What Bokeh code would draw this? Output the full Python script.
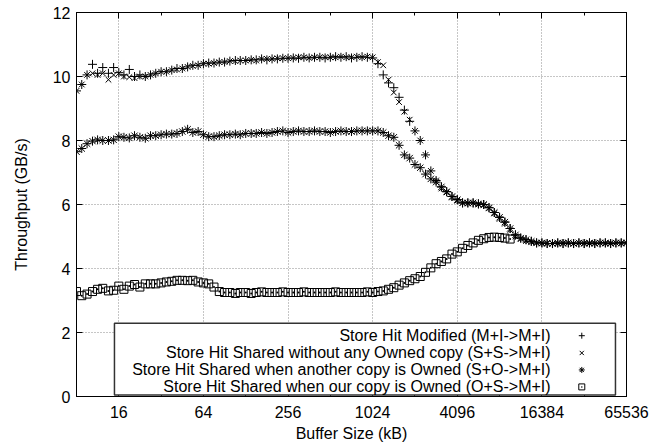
from bokeh.plotting import figure
from bokeh.models import (Range1d, FixedTicker, LogAxis, LinearAxis, BoxAnnotation,
                          Label, PrintfTickFormatter, ColumnDataSource, CustomJSTickFormatter)
from bokeh.embed import file_html
from bokeh.resources import INLINE

# ---------------- data ----------------
BUFFER_KB = [8, 8.72, 9.51, 10.4, 11.3, 12.3, 13.5, 14.7,
             16, 17.4, 19.0, 20.7, 22.6, 24.7, 26.9, 29.3,
             32, 34.9, 38.1, 41.5, 45.3, 49.4, 53.8, 58.7,
             64, 69.8, 76.1, 83.0, 90.5, 98.7, 108, 117,
             128, 140, 152, 166, 181, 197, 215, 235,
             256, 279, 304, 332, 362, 395, 431, 470,
             512, 558, 609, 664, 724, 790, 861, 939,
             1024, 1117, 1218, 1328, 1448, 1579, 1722, 1878,
             2048, 2233, 2435, 2656, 2896, 3158, 3444, 3756,
             4096, 4467, 4871, 5312, 5793, 6317, 6889, 7512,
             8192, 8933, 9742, 10624, 11585, 12634, 13777, 15024,
             16384, 17867, 19484, 21247, 23170, 25268, 27554, 30048,
             32768, 35734, 38968, 42495, 46341, 50535, 55109, 60097,
             65536]

modified_MI = [9.55, 9.75, 10.05, 10.38, 10.1, 10.28, 10.1, 10.28,
               10.12, 10.05, 10.22, 10.0, 10.05, 10.0, 10.05, 10.1,
               10.15, 10.15, 10.2, 10.25, 10.25, 10.3, 10.35, 10.35,
               10.4, 10.42, 10.42, 10.45, 10.45, 10.48, 10.5, 10.5,
               10.5, 10.52, 10.52, 10.55, 10.52, 10.55, 10.55, 10.57,
               10.57, 10.58, 10.57, 10.6, 10.58, 10.6, 10.6, 10.58,
               10.6, 10.62, 10.6, 10.62, 10.58, 10.6, 10.62, 10.6,
               10.58, 10.4, 10.05, 9.8, 9.65, 9.35, 8.95, 8.6,
               8.3, 8.0, 7.55, 7.05, 6.75, 6.55, 6.4, 6.25,
               6.15, 6.05, 6.05, 6.05, 6.02, 6.0, 5.9, 5.75,
               5.6, 5.45, 5.25, 5.05, 4.95, 4.9, 4.85, 4.8,
               4.8, 4.78, 4.78, 4.8, 4.78, 4.8, 4.78, 4.8,
               4.78, 4.8, 4.78, 4.8, 4.8, 4.78, 4.8, 4.8,
               4.8]

shared_SS = [9.55, 9.75, 10.05, 10.1, 10.05, 10.1, 9.9, 10.05,
             10.1, 10.0, 9.98, 9.95, 10.0, 10.0, 10.05, 10.1,
             10.15, 10.15, 10.2, 10.22, 10.25, 10.3, 10.33, 10.35,
             10.4, 10.4, 10.42, 10.45, 10.45, 10.48, 10.48, 10.5,
             10.5, 10.52, 10.5, 10.55, 10.55, 10.55, 10.57, 10.57,
             10.57, 10.58, 10.6, 10.6, 10.58, 10.6, 10.6, 10.6,
             10.6, 10.6, 10.62, 10.6, 10.6, 10.62, 10.6, 10.62,
             10.6, 10.45, 10.35, 9.9, 9.5, 9.2, 8.9, 8.65,
             8.3, 8.0, 7.55, 7.05, 6.75, 6.5, 6.38, 6.22,
             6.12, 6.05, 6.03, 6.05, 6.0, 5.98, 5.88, 5.72,
             5.55, 5.4, 5.2, 5.0, 4.92, 4.86, 4.82, 4.8,
             4.78, 4.8, 4.78, 4.78, 4.8, 4.8, 4.78, 4.8,
             4.8, 4.78, 4.8, 4.8, 4.78, 4.8, 4.8, 4.78,
             4.8]

shared_SO = [7.65, 7.75, 7.9, 7.98, 8.02, 8.0, 8.0, 8.02,
             8.12, 8.1, 8.08, 8.15, 8.1, 8.07, 8.15, 8.15,
             8.18, 8.2, 8.2, 8.22, 8.28, 8.35, 8.25, 8.28,
             8.18, 8.12, 8.12, 8.15, 8.18, 8.18, 8.2, 8.18,
             8.22, 8.22, 8.22, 8.25, 8.22, 8.25, 8.28, 8.3,
             8.25, 8.28, 8.3, 8.28, 8.28, 8.3, 8.28, 8.28,
             8.25, 8.28, 8.3, 8.28, 8.28, 8.3, 8.3, 8.3,
             8.3, 8.3, 8.25, 8.15, 8.1, 7.85, 7.55, 7.45,
             7.25, 7.15, 6.95, 6.8, 6.7, 6.55, 6.4, 6.25,
             6.15, 6.05, 6.05, 6.05, 6.02, 6.0, 5.9, 5.75,
             5.6, 5.45, 5.25, 5.05, 4.95, 4.9, 4.85, 4.8,
             4.8, 4.78, 4.78, 4.8, 4.78, 4.8, 4.78, 4.8,
             4.78, 4.8, 4.78, 4.8, 4.8, 4.78, 4.8, 4.8,
             4.8]

owned_OS = [3.28, 3.15, 3.2, 3.28, 3.35, 3.38, 3.3, 3.32,
            3.45, 3.35, 3.45, 3.5, 3.42, 3.52, 3.52, 3.52,
            3.55, 3.58, 3.6, 3.63, 3.63, 3.62, 3.63, 3.58,
            3.55, 3.52, 3.42, 3.28, 3.25, 3.25, 3.22, 3.25,
            3.25, 3.22, 3.25, 3.27, 3.25, 3.25, 3.25, 3.27,
            3.25, 3.25, 3.25, 3.27, 3.25, 3.25, 3.25, 3.25,
            3.25, 3.27, 3.25, 3.25, 3.25, 3.25, 3.25, 3.27,
            3.25, 3.28, 3.3, 3.35, 3.4, 3.48, 3.55, 3.62,
            3.68, 3.75, 3.88, 4.02, 4.15, 4.22, 4.3, 4.45,
            4.52, 4.63, 4.72, 4.8, 4.88, 4.93, 4.97, 4.98,
            4.97, 4.95, 4.92]

SERIES_LABELS = ["Store Hit Modified (M+I->M+I)",
                 "Store Hit Shared without any Owned copy (S+S->M+I)",
                 "Store Hit Shared when another copy is Owned (S+O->M+I)",
                 "Store Hit Shared when our copy is Owned (O+S->M+I)"]
SERIES_VALUES = [modified_MI, shared_SS, shared_SO, owned_OS]
MARKERS = ["cross", "x", "asterisk", "square_dot"]
MARKER_SIZES = [9, 8, 9, 8]

X_MAJOR = [16, 64, 256, 1024, 4096, 16384, 65536]
X_MINOR = [8, 32, 128, 512, 2048, 8192, 32768]
X_GRID = [16, 64, 256, 1024, 4096, 16384]
Y_MAJOR = [0, 2, 4, 6, 8, 10, 12]
Y_GRID = [2, 4, 6, 8, 10]

FONT = "Liberation Sans"

# ---------------- figure ----------------
p = figure(x_axis_type="log", x_range=Range1d(8, 65536), y_range=Range1d(0, 12),
           frame_width=550, frame_height=384,
           min_border_left=76, min_border_right=34, min_border_top=12, min_border_bottom=46,
           output_backend="svg", toolbar_location=None)
p.background_fill_color = "white"
p.border_fill_color = "white"
p.outline_line_color = "black"
p.outline_line_width = 1
p.outline_line_alpha = 1

def style_axis(ax, ticks, minor, show_labels=True):
    ax.ticker = FixedTicker(ticks=ticks, minor_ticks=minor)
    ax.major_tick_in = 6
    ax.major_tick_out = 0
    ax.minor_tick_in = 3
    ax.minor_tick_out = 0
    ax.axis_line_color = "black"
    ax.major_tick_line_color = "black"
    ax.minor_tick_line_color = "black"
    ax.major_label_text_font = FONT
    ax.major_label_text_color = "black"
    ax.major_label_text_font_size = "16px"
    if not show_labels:
        ax.formatter = CustomJSTickFormatter(code="return ''")
        ax.major_label_standoff = 0

xa = p.xaxis[0]
style_axis(xa, X_MAJOR, X_MINOR)
xa.formatter = PrintfTickFormatter(format="%d")
xa.major_label_standoff = 9
xa.axis_label = "Buffer Size (kB)"
xa.axis_label_text_font = FONT
xa.axis_label_text_font_size = "16px"
xa.axis_label_text_font_style = "normal"
xa.axis_label_text_color = "black"
xa.axis_label_standoff = 4

ya = p.yaxis[0]
style_axis(ya, Y_MAJOR, [])
ya.major_label_standoff = 6
ya.axis_label = "Throughput (GB/s)"
ya.axis_label_text_font = FONT
ya.axis_label_text_font_size = "16px"
ya.axis_label_text_font_style = "normal"
ya.axis_label_text_color = "black"
ya.axis_label_standoff = 20

top = LogAxis()
style_axis(top, X_MAJOR, X_MINOR, show_labels=False)
p.add_layout(top, "above")
right = LinearAxis()
style_axis(right, Y_MAJOR, [], show_labels=False)
p.add_layout(right, "right")

p.xgrid.ticker = FixedTicker(ticks=X_GRID)
p.ygrid.ticker = FixedTicker(ticks=Y_GRID)
for g in (p.xgrid, p.ygrid):
    g.grid_line_color = "#8c8c8c"
    g.grid_line_dash = "1 2"
    g.grid_line_width = 1

# ---------------- series ----------------
for vals, mk, sz in zip(SERIES_VALUES, MARKERS, MARKER_SIZES):
    src = ColumnDataSource(dict(x=BUFFER_KB[:len(vals)], y=vals))
    p.scatter("x", "y", source=src, marker=mk, size=sz,
              line_color="black", fill_color=None, line_width=1)

# ---------------- legend (gnuplot style: text right, symbol right) ----------------
LEG_BOX = dict(left=14.9, right=54700, top=2.29, bottom=0.05)
LEG_TEXT_X = 18900
LEG_MARK_X = 31500
LEG_ROWS_Y = [1.9, 1.36, 0.83, 0.3]

p.add_layout(BoxAnnotation(left=LEG_BOX["left"], right=LEG_BOX["right"],
                           top=LEG_BOX["top"], bottom=LEG_BOX["bottom"],
                           fill_color="white", fill_alpha=1,
                           line_color="#333333", line_width=1.5, line_alpha=1))
for lbl, mk, yy in zip(SERIES_LABELS, MARKERS, LEG_ROWS_Y):
    p.add_layout(Label(x=LEG_TEXT_X, y=yy, text=lbl, text_align="right",
                       text_baseline="middle", text_font=FONT,
                       text_font_size="16px", text_color="black"))
    r = p.scatter(x=[LEG_MARK_X], y=[yy], marker=mk, size=6,
                  line_color="black", fill_color=None, line_width=1)
    r.level = "overlay"

open("out.html", "w").write(file_html(p, INLINE))
